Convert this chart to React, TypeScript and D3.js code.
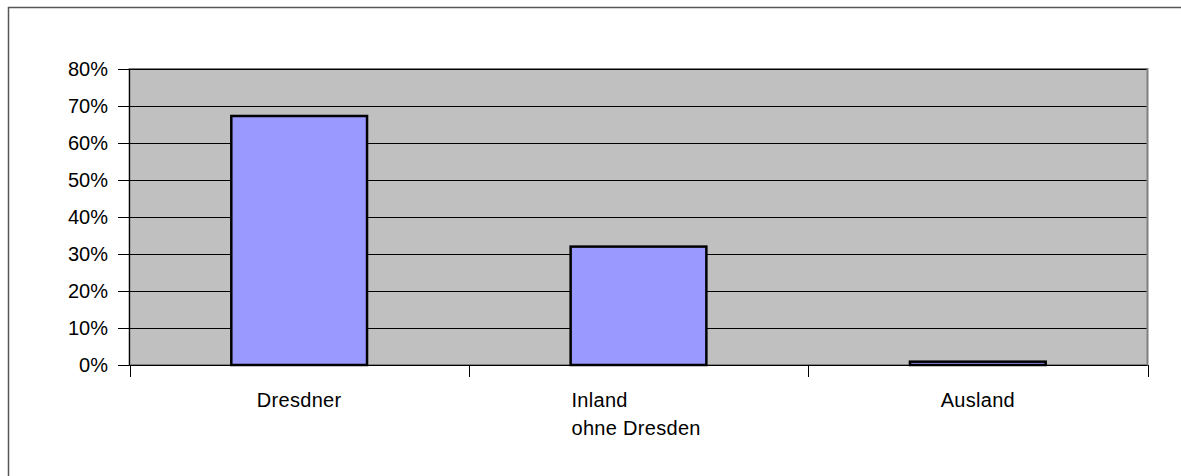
import React from "react";
import * as d3 from "d3";

const categories: string[][] = [["Dresdner"], ["Inland", "ohne Dresden"], ["Ausland"]];
const values: number[] = [0.673, 0.32, 0.009];
const yTicks: number[] = [0, 0.1, 0.2, 0.3, 0.4, 0.5, 0.6, 0.7, 0.8];

const W = 1181;
const H = 476;
const left = 129.5;
const right = 1147.5;
const top = 69;
const bottom = 365;
const FONT = "'Liberation Sans', Arial, sans-serif";

export default function App() {
  const keys = categories.map((c) => c.join(" "));
  const x = d3.scaleBand<string>().domain(keys).range([left, right]).paddingInner(0.6).paddingOuter(0.3);
  const y = d3.scaleLinear().domain([0, 0.8]).range([bottom, top]);
  const fmt = d3.format(".0%");
  const step = (right - left) / keys.length;
  const catTicks = d3.range(keys.length + 1).map((i) => left + i * step);

  return (
    <svg width={W} height={H} style={{ position: "absolute", left: 0, top: 0, background: "#fff" }}>
      <rect x={8.5} y={7.5} width={W + 20} height={H + 20} fill="#fff" stroke="#555" strokeWidth={1.5} />
      <rect x={left} y={top} width={right - left} height={bottom - top} fill="#C0C0C0" stroke="#808080" strokeWidth={2} />
      {yTicks.map((t) => (
        <g key={t}>
          {t > 0 && <line x1={left} x2={right - 1} y1={Math.round(y(t)) + 0.5} y2={Math.round(y(t)) + 0.5} stroke="#000" strokeWidth={1} />}
          <line x1={118} x2={left} y1={Math.round(y(t)) + 0.5} y2={Math.round(y(t)) + 0.5} stroke="#000" strokeWidth={1} />
          <text x={108} y={y(t)} dy="0.35em" textAnchor="end" fontFamily={FONT} fontSize={20} fill="#000">
            {fmt(t)}
          </text>
        </g>
      ))}
      <line x1={left} x2={left} y1={top} y2={bottom} stroke="#000" strokeWidth={1} />
      <line x1={left} x2={right} y1={bottom + 0.5} y2={bottom + 0.5} stroke="#000" strokeWidth={1} />
      {catTicks.map((cx, i) => (
        <line key={i} x1={Math.round(cx) + 0.5} x2={Math.round(cx) + 0.5} y1={bottom} y2={bottom + 12} stroke="#000" strokeWidth={1} />
      ))}
      {keys.map((k, i) => (
        <rect
          key={k}
          x={x(k)!}
          y={y(values[i])}
          width={x.bandwidth()}
          height={bottom - y(values[i])}
          fill="#9999FF"
          stroke="#000"
          strokeWidth={2.5}
        />
      ))}
      {categories.map((lines, i) => {
        const cx = x(keys[i])! + x.bandwidth() / 2;
        const anchorLeft = lines.length > 1;
        const longest = lines.length > 1 ? 134 : 0;
        return (
          <text key={i} fontFamily={FONT} fontSize={20} fill="#000" letterSpacing={0.3}
            textAnchor={anchorLeft ? "start" : "middle"}>
            {lines.map((l, j) => (
              <tspan key={j} x={anchorLeft ? cx - longest / 2 : cx} y={406.5 + j * 28}>
                {l}
              </tspan>
            ))}
          </text>
        );
      })}
    </svg>
  );
}
